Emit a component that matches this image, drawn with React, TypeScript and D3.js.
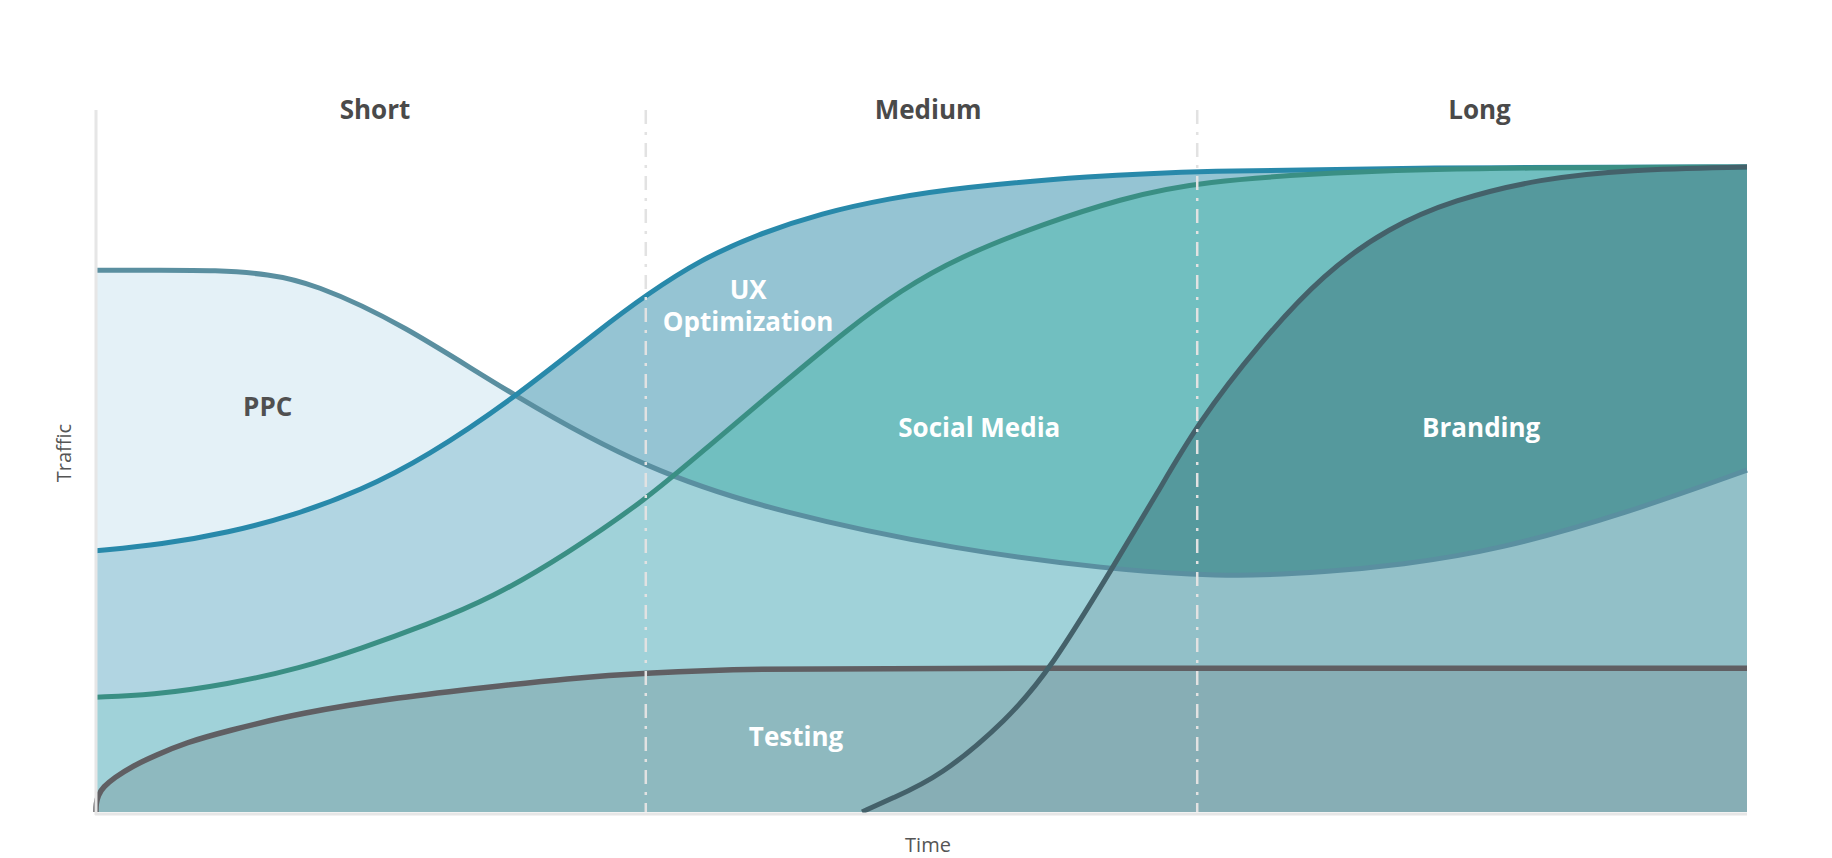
import React from "react";
import * as d3 from "d3";

// ---- data (time 0..100, traffic 0..100) ----
const ppc: [number, number][] = [
  [0, 84.0], [4, 84.0], [7.2, 84.0], [10.5, 83.4], [13.1, 82.0], [18.5, 75.8],
  [25.4, 64.3], [33.4, 53.0], [41.4, 46.4], [52.2, 40.6], [61.6, 37.6], [66.5, 36.8],
  [69.9, 36.6], [74.4, 37.2], [79.0, 38.3], [84.9, 40.6], [92.8, 46.4], [100, 53.0],
];
const ux: [number, number][] = [
  [0, 40.5], [4, 41.5], [8, 43.3], [12, 46.0], [16, 49.8], [20, 55.0], [25.4, 64.3],
  [30.5, 74.8], [33.4, 80.3], [36.6, 85.6], [40, 89.5], [44, 92.9], [48, 95.1],
  [52.2, 96.8], [60.3, 98.6], [66.7, 99.4], [80, 99.9], [100, 100],
];
const social: [number, number][] = [
  [0, 17.8], [3.3, 18.1], [8, 19.8], [12.4, 22.3], [16, 25.3], [20, 29.0], [24, 33.2],
  [28.5, 40.0], [33.3, 48.4], [37, 56.5], [41.4, 66.0], [45.6, 75.0], [48.7, 80.8],
  [52.2, 86.0], [57.5, 91.3], [62, 95.0], [66.7, 97.8], [76.6, 99.4], [86.2, 99.9],
  [100, 100],
];
const branding: [number, number][] = [
  [46.4, 0], [48.1, 2.0], [51.1, 5.4], [55.2, 14.3], [57.8, 22.1], [61.6, 38.0],
  [64.3, 49.5], [66.7, 60.2], [70.5, 72.8], [74.4, 83.6], [78.3, 90.6], [82.2, 94.9],
  [87.5, 98.2], [92.8, 99.6], [100, 100],
];
const testing: [number, number][] = [
  [0, 0], [0, 1.2], [0.12, 2.6], [0.45, 3.9], [1.1, 5.3], [2.2, 7.1], [3.6, 8.8], [5.5, 10.8],
  [7.7, 12.4], [12.4, 15.4], [18.4, 17.8], [23.9, 19.4], [28.5, 20.7], [33.4, 21.6],
  [40.0, 22.2], [48.7, 22.3], [100, 22.3],
];

const periods = ["Short", "Medium", "Long"];
const periodLabelPos = [16.9, 50.4, 83.8];
const dividers = [33.3, 66.7];

const seriesLabels = [
  { text: "PPC", t: 10.4, v: 62.8, dark: true },
  { text: "UX", t: 39.5, v: 81.0, dark: false },
  { text: "Optimization", t: 39.5, v: 75.9, dark: false },
  { text: "Social Media", t: 53.5, v: 59.5, dark: false },
  { text: "Branding", t: 83.9, v: 59.5, dark: false },
  { text: "Testing", t: 42.4, v: 11.6, dark: false },
];

const W = 1832;
const H = 858;
const FONT = "'Open Sans', 'Noto Sans', sans-serif";

export default function App() {
  const x = d3.scaleLinear().domain([0, 100]).range([96, 1747]);
  const y = d3.scaleLinear().domain([0, 100]).range([812, 167]);

  const area = d3
    .area<[number, number]>()
    .x((d) => x(d[0]))
    .y0(y(0))
    .y1((d) => y(d[1]))
    .curve(d3.curveBasis);
  const line = d3
    .line<[number, number]>()
    .x((d) => x(d[0]))
    .y((d) => y(d[1]))
    .curve(d3.curveBasis);

  return (
    <svg
      width={W}
      height={H}
      style={{ position: "absolute", left: 0, top: 0, background: "#fff" }}
      fontFamily={FONT}
    >
      {/* fills */}
      <path d={area(ux) || ""} fill="#95c4d3" />
      <path d={area(social) || ""} fill="#71bfc0" />
      <path d={area(branding) || ""} fill="#55999d" />
      <path d={area(testing) || ""} fill="rgb(25,59,57)" fillOpacity={0.4} />
      <path d={area(ppc) || ""} fill="rgb(203,228,240)" fillOpacity={0.52} />

      {/* lines */}
      <path d={line(testing) || ""} fill="none" stroke="#605f63" strokeWidth={5.5} />
      <path d={line(ppc) || ""} fill="none" stroke="#5a8fa0" strokeWidth={5} />
      <path d={line(ux) || ""} fill="none" stroke="#2889aa" strokeWidth={5} />
      <path d={line(social) || ""} fill="none" stroke="#3a8f84" strokeWidth={5} />
      <path d={line(branding) || ""} fill="none" stroke="#44616a" strokeWidth={5} />

      {/* axes */}
      <line x1={x(0)} x2={x(0)} y1={110} y2={815} stroke="#e6e6e6" strokeWidth={3} />
      <line x1={x(0) - 1} x2={x(100)} y1={814} y2={814} stroke="#e6e6e6" strokeWidth={3} />

      {/* period dividers */}
      {dividers.map((t, i) => (
        <line
          key={i}
          x1={x(t)}
          x2={x(t)}
          y1={110}
          y2={812}
          stroke="#e2e2e2"
          strokeWidth={2.5}
          strokeDasharray="14,8,3,8"
        />
      ))}

      {/* period headers */}
      {periods.map((p, i) => (
        <text
          key={p}
          x={x(periodLabelPos[i])}
          y={119}
          textAnchor="middle"
          fontSize={26}
          fontWeight={700}
          fill="#4a4a4a"
        >
          {p}
        </text>
      ))}

      {/* series labels */}
      {seriesLabels.map((l) => (
        <text
          key={l.text}
          x={x(l.t)}
          y={y(l.v) + 9}
          textAnchor="middle"
          fontSize={26}
          fontWeight={700}
          fill={l.dark ? "#505050" : "#ffffff"}
        >
          {l.text}
        </text>
      ))}

      {/* axis titles */}
      <text x={928} y={852} textAnchor="middle" fontSize={20} fill="#555">
        Time
      </text>
      <text
        transform="translate(71,453) rotate(-90)"
        textAnchor="middle"
        fontSize={20}
        fill="#555"
      >
        Traffic
      </text>
    </svg>
  );
}
